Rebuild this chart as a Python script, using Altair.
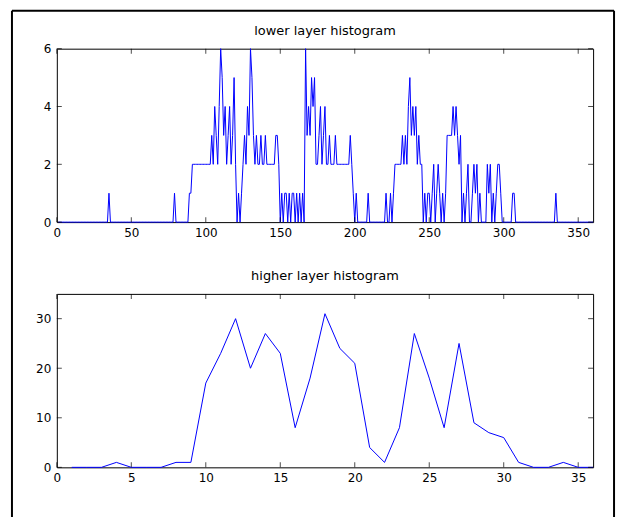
import altair as alt
import pandas as pd

# ---- data ----
lower_bins = list(range(1, 361))
lower_counts = [
    0, 0, 0, 0, 0, 0, 0, 0, 0, 0, 0, 0, 0, 0, 0, 0, 0, 0, 0, 0,
    0, 0, 0, 0, 0, 0, 0, 0, 0, 0, 0, 0, 0, 0, 1, 0, 0, 0, 0, 0,
    0, 0, 0, 0, 0, 0, 0, 0, 0, 0, 0, 0, 0, 0, 0, 0, 0, 0, 0, 0,
    0, 0, 0, 0, 0, 0, 0, 0, 0, 0, 0, 0, 0, 0, 0, 0, 0, 0, 1, 0,
    0, 0, 0, 0, 0, 0, 0, 0, 1, 1, 2, 2, 2, 2, 2, 2, 2, 2, 2, 2,
    2, 2, 2, 3, 2, 4, 3, 2, 4, 6, 5, 3, 4, 2, 3, 4, 2, 3, 5, 2,
    0, 1, 0, 1, 2, 3, 2, 4, 3, 6, 5, 3, 2, 3, 2, 2, 3, 2, 2, 3,
    2, 2, 2, 2, 2, 2, 3, 3, 2, 0, 1, 0, 1, 1, 0, 1, 0, 1, 1, 0,
    1, 0, 1, 0, 1, 0, 6, 3, 4, 3, 5, 4, 5, 2, 2, 3, 4, 2, 3, 4,
    2, 2, 3, 2, 2, 2, 3, 2, 2, 2, 2, 2, 2, 2, 2, 2, 3, 2, 1, 0,
    1, 0, 0, 0, 0, 0, 0, 0, 1, 0, 0, 0, 0, 0, 0, 0, 0, 0, 0, 0,
    1, 0, 0, 1, 0, 1, 2, 2, 2, 2, 2, 3, 2, 3, 2, 4, 5, 3, 4, 3,
    4, 2, 3, 2, 2, 0, 1, 0, 1, 1, 0, 1, 2, 0, 1, 2, 1, 0, 1, 0,
    1, 3, 3, 3, 3, 4, 3, 4, 3, 2, 3, 0, 1, 0, 1, 2, 0, 0, 1, 2,
    1, 2, 0, 1, 0, 0, 0, 0, 2, 1, 2, 0, 1, 0, 1, 2, 2, 1, 0, 0,
    0, 0, 0, 0, 0, 1, 1, 0, 0, 0, 0, 0, 0, 0, 0, 0, 0, 0, 0, 0,
    0, 0, 0, 0, 0, 0, 0, 0, 0, 0, 0, 0, 0, 0, 1, 0, 0, 0, 0, 0,
    0, 0, 0, 0, 0, 0, 0, 0, 0, 0, 0, 0, 0, 0, 0, 0, 0, 0, 0, 0,
]
higher_bins = list(range(1, 37))
higher_counts = [0, 0, 0, 1, 0, 0, 0, 1, 1, 17, 23, 30, 20, 27, 23, 8, 18, 31,
                 24, 21, 4, 1, 8, 27, 18, 8, 25, 9, 7, 6, 1, 0, 0, 1, 0, 0]

lower_xticks = [0, 50, 100, 150, 200, 250, 300, 350]
lower_yticks = [0, 2, 4, 6]
higher_xticks = [0, 5, 10, 15, 20, 25, 30, 35]
higher_yticks = [0, 10, 20, 30]

titles = ["lower layer histogram", "higher layer histogram"]

# ---- styling ----
FONT = "DejaVu Sans"
W = 538
H = 174
BLUE = "#0000ff"
TICK = 5


def panel(bins, counts, xdom, ydom, xticks, yticks, title, frame=False):
    df = pd.DataFrame({"bin": bins, "count": counts})
    xs = alt.Scale(domain=xdom, nice=False, zero=False)
    ys = alt.Scale(domain=ydom, nice=False, zero=False)
    xaxis = alt.Axis(values=xticks, title=None, ticks=False, tickSize=0, domain=False,
                     grid=False, labelFont=FONT, labelFontSize=12, labelColor="black",
                     labelPadding=5, labelFlush=False, labelAngle=0)
    yaxis = alt.Axis(values=yticks, title=None, ticks=False, tickSize=0, domain=False,
                     grid=False, labelFont=FONT, labelFontSize=12, labelColor="black",
                     labelPadding=6)
    line = alt.Chart(df).mark_line(color=BLUE, strokeWidth=1).encode(
        x=alt.X("bin:Q", scale=xs, axis=xaxis),
        y=alt.Y("count:Q", scale=ys, axis=yaxis),
    )
    xt = pd.DataFrame({"bin": xticks})
    yt = pd.DataFrame({"count": yticks})
    xb = alt.Chart(xt).mark_tick(orient="vertical", size=TICK, thickness=1, color="black").encode(
        x=alt.X("bin:Q", scale=xs, axis=xaxis), y=alt.value(H - TICK / 2))
    xtop = alt.Chart(xt).mark_tick(orient="vertical", size=TICK, thickness=1, color="black").encode(
        x=alt.X("bin:Q", scale=xs, axis=xaxis), y=alt.value(TICK / 2))
    yl = alt.Chart(yt).mark_tick(orient="horizontal", size=TICK, thickness=1, color="black").encode(
        y=alt.Y("count:Q", scale=ys, axis=yaxis), x=alt.value(TICK / 2))
    yr = alt.Chart(yt).mark_tick(orient="horizontal", size=TICK, thickness=1, color="black").encode(
        y=alt.Y("count:Q", scale=ys, axis=yaxis), x=alt.value(W - TICK / 2))
    one = pd.DataFrame({"k": [0]})
    ttl = alt.Chart(one).mark_text(font=FONT, fontSize=13, color="black", align="center",
                                   baseline="bottom").encode(
        x=alt.value(W / 2), y=alt.value(-11), text=alt.value(title))
    layers = [line, xb, xtop, yl, yr, ttl]
    if frame:
        fl = alt.Chart(one).mark_rule(color="black", strokeWidth=2).encode(
            x=alt.value(-45), y=alt.value(-38), y2=alt.value(470))
        fr = alt.Chart(one).mark_rule(color="black", strokeWidth=2).encode(
            x=alt.value(559), y=alt.value(-38), y2=alt.value(470))
        ft = alt.Chart(one).mark_rule(color="black", strokeWidth=2).encode(
            x=alt.value(-45), x2=alt.value(559), y=alt.value(-38))
        layers += [fl, fr, ft]
    return alt.layer(*layers).properties(width=W, height=H)


top = panel(lower_bins, lower_counts, [0, 360], [0, 6], lower_xticks, lower_yticks,
            titles[0], frame=True)
bottom = panel(higher_bins, higher_counts, [0, 36], [0, 35], higher_xticks, higher_yticks,
               titles[1])

chart = alt.VConcatChart(vconcat=[top, bottom], spacing=72, bounds="flush").properties(
    padding={"left": 10, "top": 8, "right": 10, "bottom": 0},
    background="white",
).configure_view(stroke="black", strokeWidth=1)

chart.save("out.html", embed_options={"renderer": "svg", "actions": False})
